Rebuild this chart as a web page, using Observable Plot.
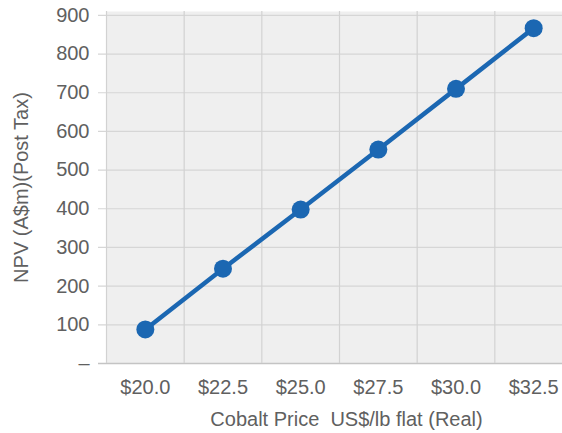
<!DOCTYPE html>
<html>
<head>
<meta charset="utf-8">
<script src="https://cdn.jsdelivr.net/npm/d3@7"></script>
<script src="https://cdn.jsdelivr.net/npm/@observablehq/plot@0.6"></script>
<style>
  html, body { margin: 0; padding: 0; background: #fff; }
  svg { display: block; }
</style>
</head>
<body>
<div id="chart"></div>
<script>
const prices = [20, 22.5, 25, 27.5, 30, 32.5];
const npv = [88, 245, 398, 553, 710, 867];
const yTicks = [0, 100, 200, 300, 400, 500, 600, 700, 800, 900];

const data = prices.map((p, i) => ({price: p, npv: npv[i]}));
const step = 2.5;
const bounds = prices.map(p => p - step / 2).concat([prices[prices.length - 1] + step / 2]);

const textColor = "#606060";
const blue = "#1b67b2";

const chart = Plot.plot({
  width: 562,
  height: 433,
  marginLeft: 106,
  marginRight: -24,
  marginTop: 11,
  marginBottom: 70,
  style: {fontFamily: "'Liberation Sans', Arial, sans-serif", fontSize: "20px", color: textColor, background: "#fff", overflow: "hidden"},
  x: {
    type: "linear",
    domain: [bounds[0], bounds[bounds.length - 1]],
    range: [106, 572]
  },
  y: {
    domain: [0, 910],
    range: [363, 11]
  },
  marks: [
    Plot.frame({fill: "#efefef", stroke: null}),
    Plot.ruleY(yTicks, {stroke: "#d6d6d6", strokeWidth: 1.2, x1: bounds[0] - 8 * step / 77.6, x2: bounds[bounds.length - 1]}),
    Plot.ruleY([0], {stroke: "#c4c4c4", strokeWidth: 1.5, x1: bounds[0] - 8 * step / 77.6, x2: bounds[bounds.length - 1]}),
    Plot.ruleX(bounds, {stroke: "#d2d2d2", strokeWidth: 1.2}),
    Plot.axisY({
      ticks: yTicks,
      tickSize: 0,
      tickPadding: 17,
      tickFormat: d => d === 0 ? "–" : String(d),
      label: "NPV (A$m)(Post Tax)",
      labelAnchor: "center",
      labelArrow: "none",
      labelOffset: 93,
      fontSize: 20
    }),
    Plot.axisX({
      ticks: prices,
      tickSize: 0,
      tickPadding: 16,
      tickFormat: d => "$" + d.toFixed(1),
      label: "Cobalt Price\u00a0\u00a0US$/lb flat (Real)",
      labelAnchor: "center",
      labelArrow: "none",
      labelOffset: 62,
      fontSize: 20
    }),
    Plot.line(data, {x: "price", y: "npv", stroke: blue, strokeWidth: 4.5}),
    Plot.dot(data, {x: "price", y: "npv", fill: blue, r: 9, stroke: null})
  ]
});
document.getElementById("chart").append(chart);
</script>
</body>
</html>
